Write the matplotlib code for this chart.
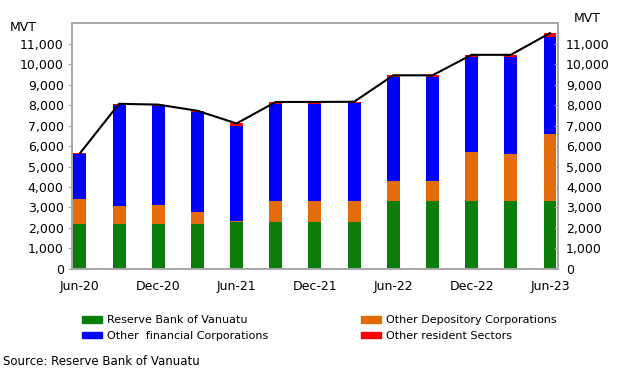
import numpy as np
import matplotlib.pyplot as plt
from matplotlib.patches import Patch

# quarterly data, MVT millions
quarters = ["Jun-20", "Sep-20", "Dec-20", "Mar-21", "Jun-21", "Sep-21", "Dec-21",
            "Mar-22", "Jun-22", "Sep-22", "Dec-22", "Mar-23", "Jun-23"]
rbv = np.array([2200, 2200, 2200, 2200, 2280, 2300, 2300, 2300, 3300, 3300, 3300, 3300, 3300])
odc = np.array([1200, 870, 900, 600, 80, 1000, 1000, 1000, 1000, 1000, 2400, 2320, 3300])
ofc = np.array([2200, 4920, 4830, 4850, 4640, 4760, 4760, 4790, 5060, 5060, 4640, 4720, 4720])
ors = np.array([40, 70, 90, 70, 100, 90, 90, 70, 90, 90, 110, 110, 190])
total = rbv + odc + ofc + ors

green = "#0a7d0a"
orange = "#e36c09"
blue = "#0000ff"
red = "#ff0000"
grey = "#a6a6a6"

fig = plt.figure(figsize=(6.22, 3.72), dpi=100)
ax = fig.add_axes([0.1158, 0.277, 0.781, 0.661])

x = np.arange(len(quarters))
w = 0.33
ax.bar(x, rbv, w, color=green, zorder=2)
ax.bar(x, odc, w, bottom=rbv, color=orange, zorder=2)
ax.bar(x, ofc, w, bottom=rbv + odc, color=blue, zorder=2)
ax.bar(x, ors, w, bottom=rbv + odc + ofc, color=red, zorder=2)
ax.plot(x, total, color="black", lw=1.5, zorder=3)

ax.set_xlim(-0.2, 12.2)
ax.set_ylim(0, 12000)
yt = np.arange(0, 12000, 1000)
ax.set_yticks(yt)
ax.set_yticklabels([f"{v:,}" for v in yt], fontsize=9)
ax.set_xticks(x[::2])
ax.set_xticklabels(quarters[::2], fontsize=9)
ax.set_xticks(x[::2] - 0.15, minor=True)
ax.tick_params(axis="x", which="major", length=0, pad=8)
ax.tick_params(axis="x", which="minor", length=4, color=grey, direction="in")
ax.tick_params(axis="y", length=3, color=grey, pad=3)

ax2 = ax.twinx()
ax2.set_ylim(0, 12000)
ax2.set_yticks(yt)
ax2.set_yticklabels([f"{v:,}" for v in yt], fontsize=9)
ax2.tick_params(axis="y", length=3, color=grey, direction="in", pad=6)

for a in (ax, ax2):
    for s in a.spines.values():
        s.set_color(grey)
        s.set_linewidth(1.2)

fig.text(0.016, 0.918, "MVT", fontsize=9)
fig.text(0.923, 0.94, "MVT", fontsize=9)

leg_kw = dict(frameon=False, fontsize=8, handlelength=1.8, handleheight=0.5,
              handletextpad=0.4, labelspacing=0.5, borderpad=0)
fig.legend(handles=[Patch(color=green, label="Reserve Bank of Vanuatu"),
                    Patch(color=blue, label="Other  financial Corporations")],
           loc="upper left", bbox_to_anchor=(0.123, 0.167), **leg_kw)
fig.legend(handles=[Patch(color=orange, label="Other Depository Corporations"),
                    Patch(color=red, label="Other resident Sectors")],
           loc="upper left", bbox_to_anchor=(0.572, 0.167), **leg_kw)

fig.text(0.005, 0.02, "Source: Reserve Bank of Vanuatu", fontsize=8.5)

fig.savefig("out.png", dpi=100)
